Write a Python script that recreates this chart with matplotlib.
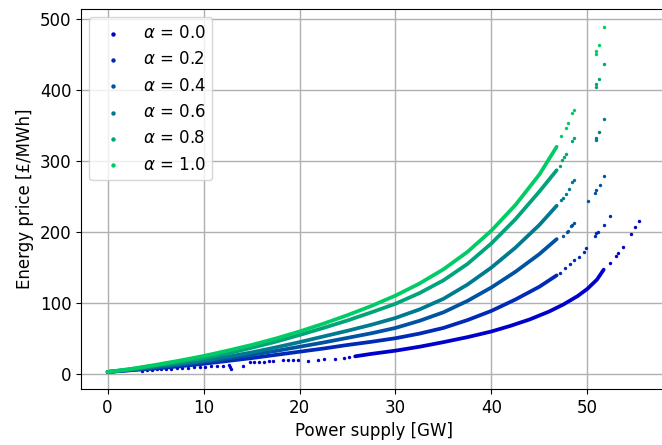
import matplotlib
matplotlib.use('Agg')
from matplotlib import pyplot as plt

# Energy price vs power supply for different alpha

alphas = [0.0, 0.2, 0.4, 0.6, 0.8, 1.0]
colors = ['#0000cc', '#0029b8', '#0052a3', '#007a8f', '#00a37a', '#00cc66']

# continuous part of the curves (alpha 0.2 .. 1.0 share the supply values)
supply = [0, 2.5, 5, 7.5, 10, 12.5, 15, 17.5, 20, 22.5, 25, 27.5, 30,
          32.5, 35, 37.5, 40, 42.5, 45, 46.8]
price_02 = [3, 5.5, 8, 11, 14.5, 18.5, 22.5, 27, 31.5, 36, 41, 45.5, 50.5, 57, 65, 76, 89, 105, 123, 139]
price_04 = [3, 6, 9, 13, 17, 22, 27, 32.5, 38.5, 44.5, 51, 57.5, 65, 75, 87, 103, 122, 144, 169, 190]
price_06 = [3, 6.5, 10.5, 14.5, 19, 24.5, 30.5, 37.5, 45, 53, 61, 69.5, 79, 91, 106, 126, 150, 178, 210, 237]
price_08 = [3, 7, 12, 17, 22.5, 29, 37, 45.5, 55, 65, 75.5, 87, 99, 114, 132, 155, 184, 218, 257, 287]
price_10 = [3, 7.5, 13, 19, 25.5, 33, 41, 50, 60, 71, 83, 96, 110.5, 127.5, 147.5, 172, 202, 238, 281, 320]

supply_00 = [25.8, 27.5, 30, 32.5, 35, 37.5, 40, 42, 44, 46, 47.5, 49, 50, 51, 51.7]
price_00 = [25, 28.5, 33, 38.5, 45, 52, 60, 68, 77, 88, 98, 110, 120, 133, 147]

# scattered points
dots_x_00 = [0, 3.6, 4.1, 4.6, 5.1, 5.6, 6.1, 6.6, 7.2, 7.8, 8.4, 9.0, 9.6, 10.2, 10.8, 11.4,
             12.0, 12.6, 12.8, 12.9, 14.1, 14.8, 15.3, 15.8, 16.3, 16.8, 17.2, 18.3, 18.8,
             19.3, 19.8, 20.9, 21.9, 22.6, 23.7, 24.6, 25.2,
             52.4, 53.0, 53.15, 53.75, 54.6, 55.0, 55.4]
dots_y_00 = [3, 5, 5.5, 6, 6.5, 7, 7, 7.5, 8, 8.5, 9, 9.5, 10, 10.5, 11, 11.5,
             12, 13, 10, 7, 11, 17, 17, 17.5, 17.5, 18, 18, 19.5, 19.5,
             20, 20, 18, 19.5, 21, 21.5, 23, 24,
             157, 166, 170, 179, 197, 207, 215]
dots_x_02 = [47.1, 47.7, 48.2, 48.6, 49.1, 49.6, 49.9, 50.8, 50.95, 51.1, 51.7, 52.4]
dots_y_02 = [143, 149, 155, 160, 165, 172, 178, 194, 199, 200, 210, 222]
dots_x_04 = [47.5, 47.9, 48.0, 48.3, 48.45, 48.6, 50.1, 50.8, 50.95, 51.3, 51.75]
dots_y_04 = [194, 200, 201, 208, 210, 213, 243, 255, 259, 266, 279]
dots_x_06 = [47.3, 47.5, 47.8, 48.1, 48.45, 48.6, 50.9, 50.95, 51.2, 51.75]
dots_y_06 = [245, 248, 254, 260, 270, 273, 330, 333, 341, 359]
dots_x_08 = [47.1, 47.35, 47.6, 47.8, 48.45, 48.6, 50.9, 50.95, 51.2, 51.75]
dots_y_08 = [293, 301, 305, 310, 328, 333, 404, 408, 415, 437]
dots_x_10 = [47.3, 47.8, 48.0, 48.4, 48.6, 50.9, 50.95, 51.2, 51.75]
dots_y_10 = [335, 346, 353, 368, 372, 451, 455, 464, 489]

lines = [(supply_00, price_00), (supply, price_02), (supply, price_04),
         (supply, price_06), (supply, price_08), (supply, price_10)]
dots = [(dots_x_00, dots_y_00), (dots_x_02, dots_y_02), (dots_x_04, dots_y_04),
        (dots_x_06, dots_y_06), (dots_x_08, dots_y_08), (dots_x_10, dots_y_10)]

plt.rcParams['font.size'] = 12

fig = plt.figure(figsize=(6.62, 4.45), dpi=100)
ax = fig.add_axes([0.1224, 0.1258, 0.8837, 0.854])

for i in range(len(alphas)):
    ax.plot(lines[i][0], lines[i][1], color=colors[i], linewidth=2.7,
            solid_capstyle='round', solid_joinstyle='round', zorder=2 + i)
    ax.scatter(dots[i][0], dots[i][1], s=6, color=colors[i], linewidths=0,
               zorder=2 + i, label=r'$\alpha$ = %.1f' % alphas[i])

ax.set_xlim(-2.77, 58.2)
ax.set_ylim(-21, 514)
ax.set_xticks([0, 10, 20, 30, 40, 50])
ax.set_yticks([0, 100, 200, 300, 400, 500])
ax.grid(True, color='#b0b0b0', linewidth=1.0)
ax.set_axisbelow(True)

ax.set_xlabel('Power supply [GW]')
ax.set_ylabel('Energy price [£/MWh]')

ax.legend(loc='upper left', markerscale=1.3)

fig.savefig('out.png', dpi=100)
